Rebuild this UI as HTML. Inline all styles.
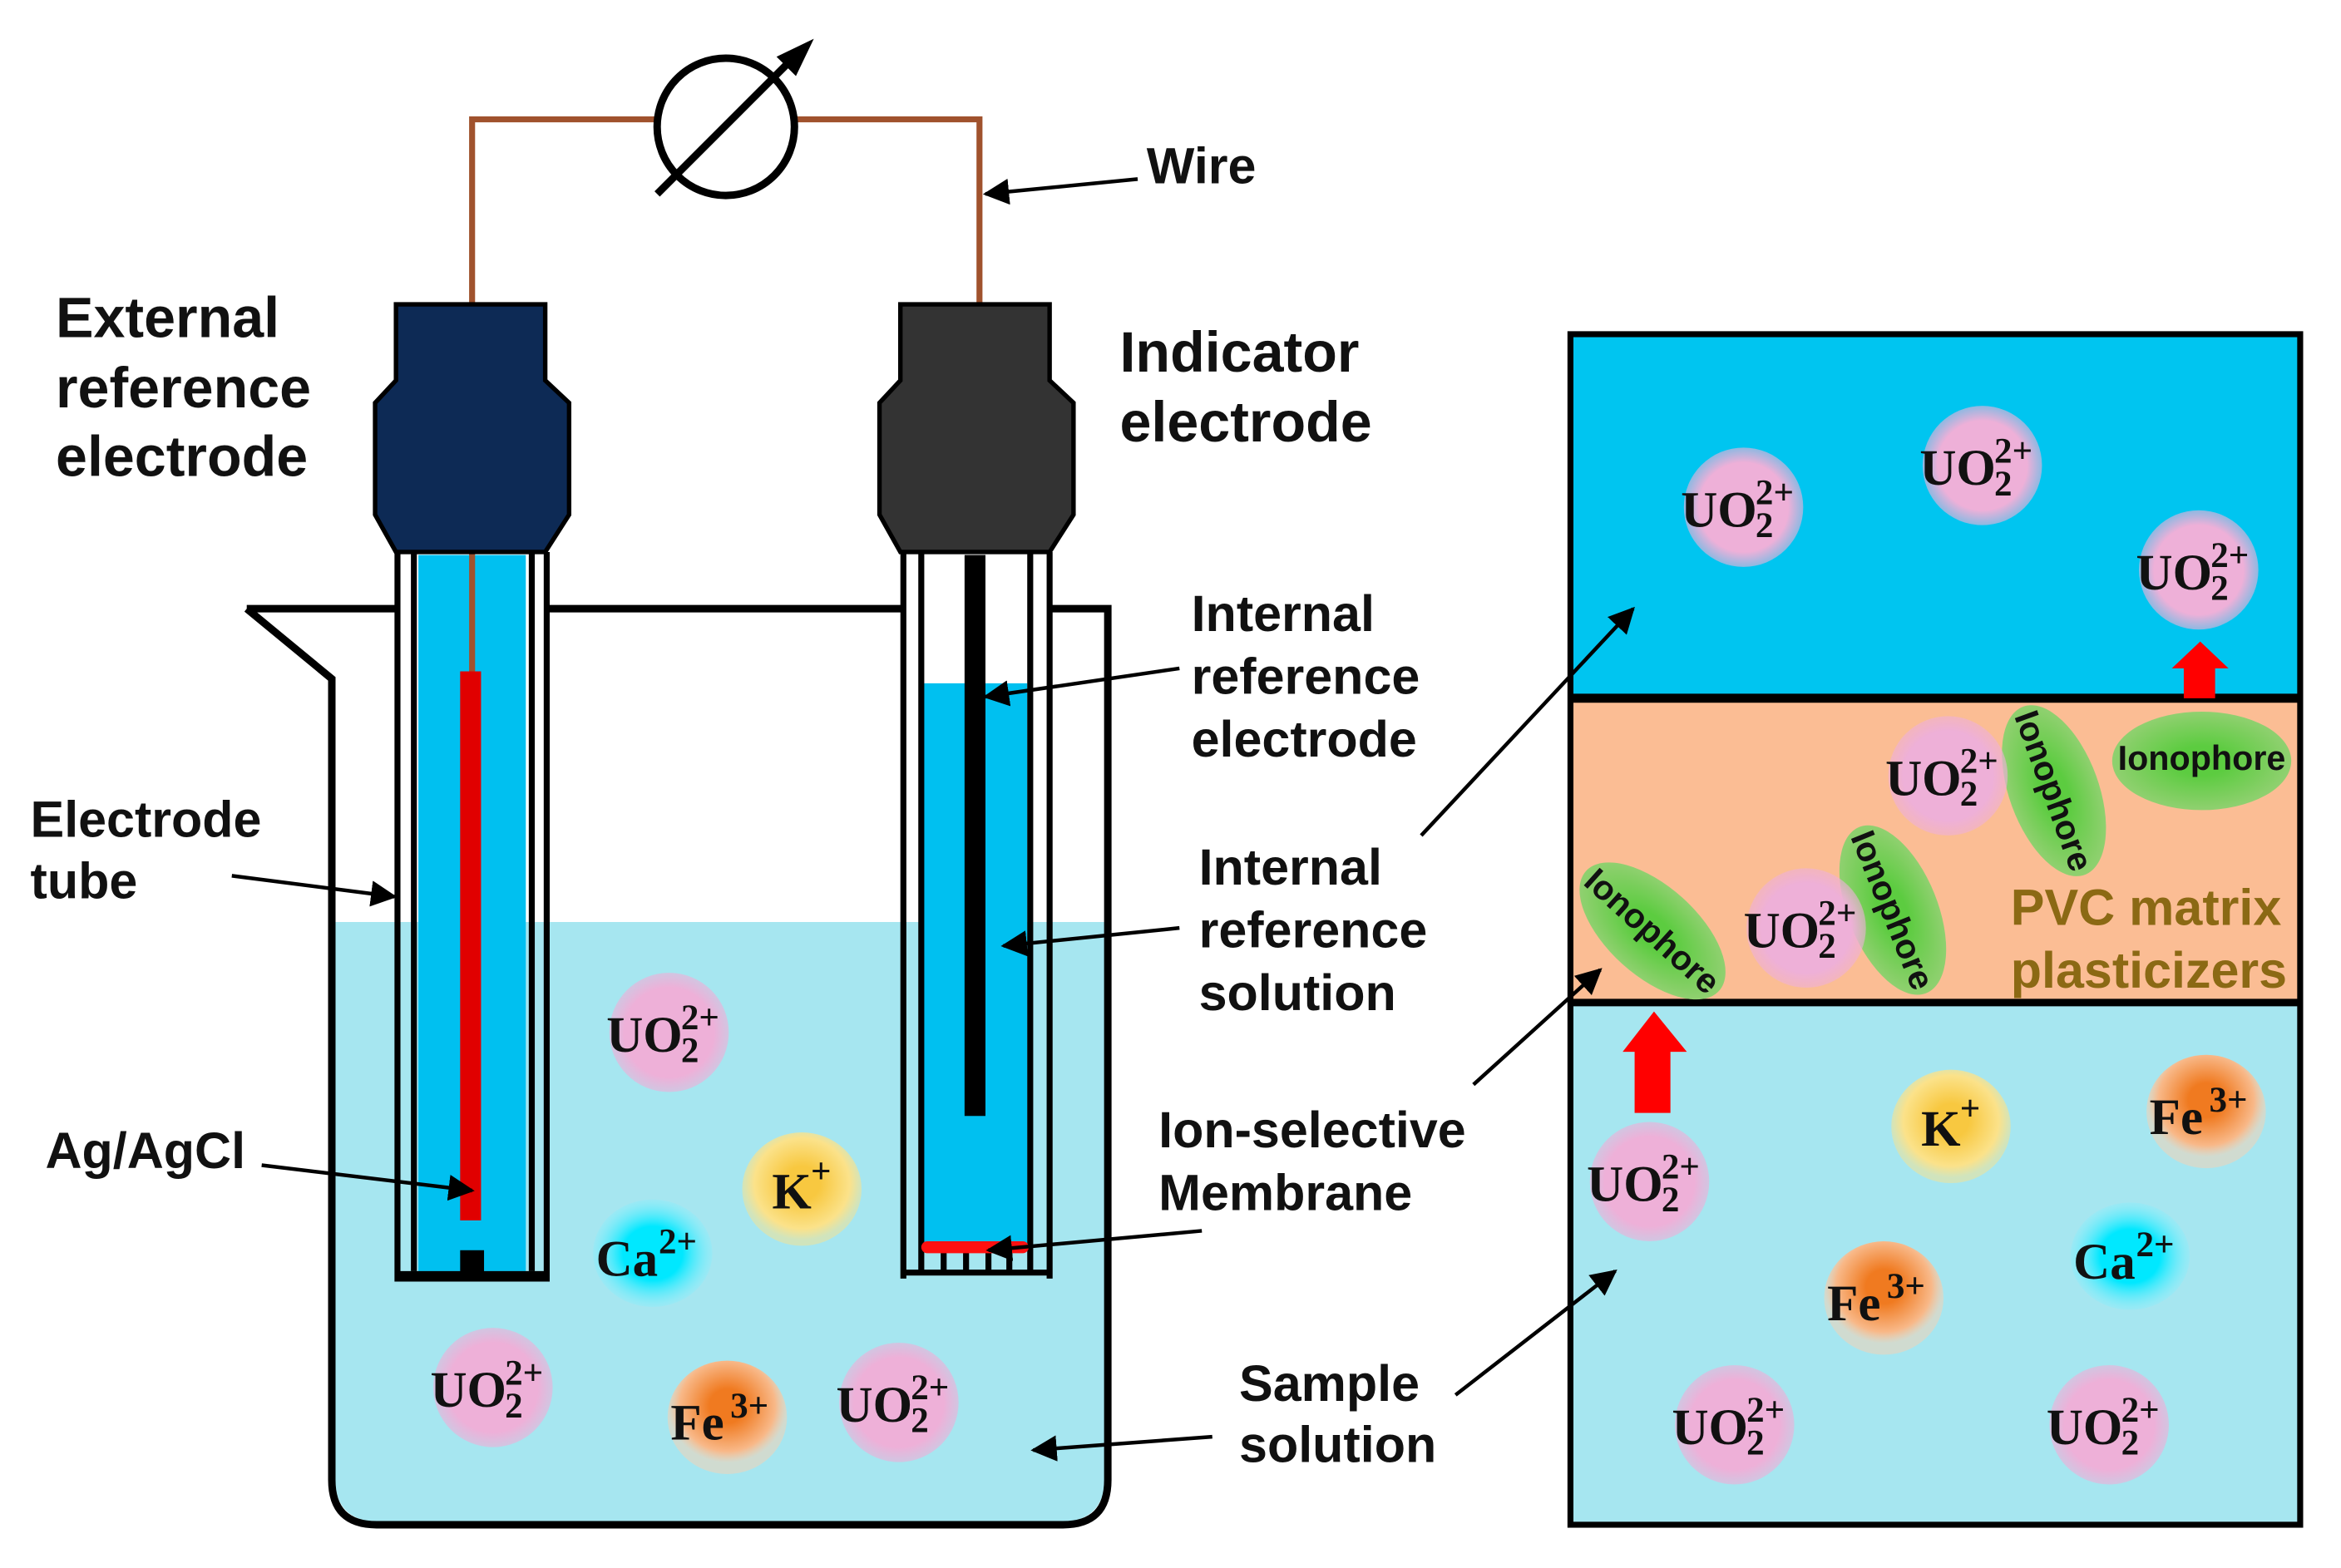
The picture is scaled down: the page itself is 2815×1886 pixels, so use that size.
<!DOCTYPE html>
<html><head><meta charset="utf-8"><style>
html,body{margin:0;padding:0;background:#fff}
svg{display:block}
.l{font-family:"Liberation Sans",sans-serif;font-weight:bold;font-size:34px;fill:#111}
.t{font-size:38px}
.s{font-family:"Liberation Serif",serif;font-weight:bold;fill:#111}
.io{font-family:"Liberation Sans",sans-serif;font-weight:bold;font-size:23px;fill:#111}
</style></head><body>
<svg width="2815" height="1886" viewBox="0 0 1568 1051" xmlns="http://www.w3.org/2000/svg">
<defs>
<radialGradient id="pk"><stop offset="0.75" stop-color="#eeb0d8"/><stop offset="1" stop-color="#eeb0d8" stop-opacity="0.6"/></radialGradient>
<radialGradient id="ky" cx="0.5" cy="0.45"><stop offset="0.3" stop-color="#f8c840"/><stop offset="0.8" stop-color="#fbe28a"/><stop offset="1" stop-color="#fbe28a" stop-opacity="0.5"/></radialGradient>
<radialGradient id="fe" cx="0.5" cy="0.4"><stop offset="0.3" stop-color="#f07a20"/><stop offset="0.8" stop-color="#f8b888"/><stop offset="1" stop-color="#fbd0b0" stop-opacity="0.5"/></radialGradient>
<radialGradient id="ca"><stop offset="0.5" stop-color="#00e8ff"/><stop offset="1" stop-color="#80f0ff" stop-opacity="0.3"/></radialGradient>
<radialGradient id="gr"><stop offset="0.3" stop-color="#5ccc40"/><stop offset="1" stop-color="#90d070"/></radialGradient>
<marker id="ah" viewBox="0 0 10 10" refX="9" refY="5" markerWidth="7" markerHeight="7" orient="auto"><path d="M0,0 L10,5 L0,10 z" fill="#000"/></marker>
</defs>

<path d="M316,205 V80 H440 M532,80 H656 V205" fill="none" stroke="#a0522d" stroke-width="4"/>
<circle cx="486" cy="85" r="46" fill="#fff" stroke="#000" stroke-width="5"/>
<line x1="440" y1="130" x2="530" y2="40" stroke="#000" stroke-width="5"/>
<path d="M545,26 L520,38 L533,51 z" fill="#000"/>

<path d="M224,618 H740 V990 Q740,1020 710,1020 H254 Q224,1020 224,990 z" fill="#a6e6f0"/>
<path d="M165,408 H266 M366,408 H605 M703,408 H742 V992 Q742,1022 712,1022 H252 Q222,1022 222,992 V455 L165,408" fill="none" stroke="#000" stroke-width="5"/>

<rect x="266" y="370" width="100" height="487" fill="#fff"/>
<rect x="266" y="618" width="100" height="239" fill="#a6e6f0"/>
<rect x="280" y="372" width="72" height="480" fill="#00c0f0"/>
<path d="M266,370 V857 H366 V370 M277,370 V852 M356,370 V852" fill="none" stroke="#000" stroke-width="4"/>
<line x1="266" y1="855" x2="366" y2="855" stroke="#000" stroke-width="6"/>
<line x1="316" y1="370" x2="316" y2="452" stroke="#a0522d" stroke-width="4"/>
<rect x="308" y="450" width="14" height="368" fill="#e00000"/>
<rect x="308" y="838" width="16" height="16" fill="#000"/>
<path d="M265,204 H365 V255 L381,270 V345 L365,370 H265 L251,345 V270 L265,255 z" fill="#0d2a55" stroke="#000" stroke-width="3"/>

<rect x="605" y="370" width="98" height="485" fill="#fff"/>
<rect x="605" y="618" width="98" height="237" fill="#a6e6f0"/>
<rect x="618" y="458" width="70" height="380" fill="#00c0f0"/>
<path d="M605,370 V857 M703,370 V857 M617,370 V852 M690,370 V852 M605,853 H703 M632,838 V853 M647,838 V853 M662,838 V853 M676,838 V853" fill="none" stroke="#000" stroke-width="4"/>
<rect x="646" y="372" width="14" height="376" fill="#000"/>
<rect x="617" y="832" width="72" height="8" rx="4" fill="#ff1010"/>
<path d="M603,204 H703 V255 L719,270 V345 L703,370 H603 L589,345 V270 L603,255 z" fill="#333" stroke="#000" stroke-width="3"/>

<rect x="1052" y="224" width="489" height="244" fill="#00c5f0"/>
<rect x="1052" y="468" width="489" height="204" fill="#fbbd94"/>
<rect x="1052" y="672" width="489" height="350" fill="#a6e6f0"/>
<rect x="1052" y="224" width="489" height="798" fill="none" stroke="#000" stroke-width="4"/>
<line x1="1052" y1="468" x2="1541" y2="468" stroke="#000" stroke-width="6"/>
<line x1="1052" y1="672" x2="1541" y2="672" stroke="#000" stroke-width="5"/>
<path d="M1463,468 V448 H1455 L1474,430 L1493,448 H1484 V468 z" fill="#f00"/>
<path d="M1095,746 V705 H1087 L1108,678 L1130,705 H1119 V746 z" fill="#f00"/>

<g transform="translate(1107,624) rotate(42)"><ellipse rx="60" ry="30" fill="url(#gr)"/><text class="io" text-anchor="middle" y="8">Ionophore</text></g>
<g transform="translate(1268,610) rotate(68)"><ellipse rx="60" ry="30" fill="url(#gr)"/><text class="io" text-anchor="middle" y="8">Ionophore</text></g>
<g transform="translate(1376,530) rotate(70)"><ellipse rx="60" ry="30" fill="url(#gr)"/><text class="io" text-anchor="middle" y="8">Ionophore</text></g>
<g transform="translate(1475,510)"><ellipse rx="60" ry="33" fill="url(#gr)"/><text class="io" text-anchor="middle" y="6">Ionophore</text></g>

<text x="1347" y="620" style="font-family:'Liberation Sans',sans-serif;font-weight:bold;font-size:34px;fill:#8b6914">PVC matrix</text>
<text x="1347" y="662" style="font-family:'Liberation Sans',sans-serif;font-weight:bold;font-size:34px;fill:#8b6914">plasticizers</text>

<g class="s">
<g transform="translate(448,692)"><circle r="40" fill="url(#pk)"/><text x="-42" y="13" font-size="34">UO</text><text x="8" y="-2" font-size="24">2+</text><text x="8" y="20" font-size="24">2</text></g>
<g transform="translate(330,930)"><circle r="40" fill="url(#pk)"/><text x="-42" y="13" font-size="34">UO</text><text x="8" y="-2" font-size="24">2+</text><text x="8" y="20" font-size="24">2</text></g>
<g transform="translate(602,940)"><circle r="40" fill="url(#pk)"/><text x="-42" y="13" font-size="34">UO</text><text x="8" y="-2" font-size="24">2+</text><text x="8" y="20" font-size="24">2</text></g>
<g transform="translate(1168,340)"><circle r="40" fill="url(#pk)"/><text x="-42" y="13" font-size="34">UO</text><text x="8" y="-2" font-size="24">2+</text><text x="8" y="20" font-size="24">2</text></g>
<g transform="translate(1328,312)"><circle r="40" fill="url(#pk)"/><text x="-42" y="13" font-size="34">UO</text><text x="8" y="-2" font-size="24">2+</text><text x="8" y="20" font-size="24">2</text></g>
<g transform="translate(1473,382)"><circle r="40" fill="url(#pk)"/><text x="-42" y="13" font-size="34">UO</text><text x="8" y="-2" font-size="24">2+</text><text x="8" y="20" font-size="24">2</text></g>
<g transform="translate(1305,520)"><circle r="40" fill="url(#pk)"/><text x="-42" y="13" font-size="34">UO</text><text x="8" y="-2" font-size="24">2+</text><text x="8" y="20" font-size="24">2</text></g>
<g transform="translate(1210,622)"><circle r="40" fill="url(#pk)"/><text x="-42" y="13" font-size="34">UO</text><text x="8" y="-2" font-size="24">2+</text><text x="8" y="20" font-size="24">2</text></g>
<g transform="translate(1105,792)"><circle r="40" fill="url(#pk)"/><text x="-42" y="13" font-size="34">UO</text><text x="8" y="-2" font-size="24">2+</text><text x="8" y="20" font-size="24">2</text></g>
<g transform="translate(1162,955)"><circle r="40" fill="url(#pk)"/><text x="-42" y="13" font-size="34">UO</text><text x="8" y="-2" font-size="24">2+</text><text x="8" y="20" font-size="24">2</text></g>
<g transform="translate(1413,955)"><circle r="40" fill="url(#pk)"/><text x="-42" y="13" font-size="34">UO</text><text x="8" y="-2" font-size="24">2+</text><text x="8" y="20" font-size="24">2</text></g>
<g transform="translate(537,797)"><ellipse rx="40" ry="38" fill="url(#ky)"/><text x="-20" y="13" font-size="34">K</text><text x="6" y="-4" font-size="24">+</text></g>
<g transform="translate(1307,755)"><ellipse rx="40" ry="38" fill="url(#ky)"/><text x="-20" y="13" font-size="34">K</text><text x="6" y="-4" font-size="24">+</text></g>
<g transform="translate(437,840)"><ellipse rx="40" ry="36" fill="url(#ca)"/><text x="-38" y="15" font-size="34">Ca</text><text x="4" y="0" font-size="24">2+</text></g>
<g transform="translate(1427,842)"><ellipse rx="40" ry="36" fill="url(#ca)"/><text x="-38" y="15" font-size="34">Ca</text><text x="4" y="0" font-size="24">2+</text></g>
<g transform="translate(487,950)"><ellipse rx="40" ry="38" fill="url(#fe)"/><text x="-38" y="15" font-size="34">Fe</text><text x="2" y="0" font-size="24">3+</text></g>
<g transform="translate(1478,745)"><ellipse rx="40" ry="38" fill="url(#fe)"/><text x="-38" y="15" font-size="34">Fe</text><text x="2" y="0" font-size="24">3+</text></g>
<g transform="translate(1262,870)"><ellipse rx="40" ry="38" fill="url(#fe)"/><text x="-38" y="15" font-size="34">Fe</text><text x="2" y="0" font-size="24">3+</text></g>
</g>

<g stroke="#000" stroke-width="2.5" marker-end="url(#ah)" fill="none">
<line x1="762" y1="120" x2="660" y2="130"/>
<line x1="790" y1="448" x2="660" y2="467"/>
<line x1="155" y1="587" x2="264" y2="601"/>
<line x1="790" y1="622" x2="672" y2="634"/>
<line x1="175" y1="781" x2="316" y2="798"/>
<line x1="805" y1="825" x2="662" y2="838"/>
<line x1="812" y1="963" x2="692" y2="972"/>
<line x1="952" y1="560" x2="1094" y2="408"/>
<line x1="987" y1="727" x2="1072" y2="650"/>
<line x1="975" y1="935" x2="1082" y2="852"/>
</g>

<text class="l t" x="37" y="226">External</text>
<text class="l t" x="37" y="273">reference</text>
<text class="l t" x="37" y="319">electrode</text>
<text class="l t" x="750" y="249">Indicator</text>
<text class="l t" x="750" y="296">electrode</text>
<text class="l" x="768" y="123">Wire</text>
<text class="l" x="798" y="423">Internal</text>
<text class="l" x="798" y="465">reference</text>
<text class="l" x="798" y="507">electrode</text>
<text class="l" x="20" y="561">Electrode</text>
<text class="l" x="20" y="602">tube</text>
<text class="l" x="803" y="593">Internal</text>
<text class="l" x="803" y="635">reference</text>
<text class="l" x="803" y="677">solution</text>
<text class="l" x="30" y="783">Ag/AgCl</text>
<text class="l" x="776" y="769">Ion-selective</text>
<text class="l" x="776" y="811">Membrane</text>
<text class="l" x="830" y="939">Sample</text>
<text class="l" x="830" y="980">solution</text>
</svg>
</body></html>
